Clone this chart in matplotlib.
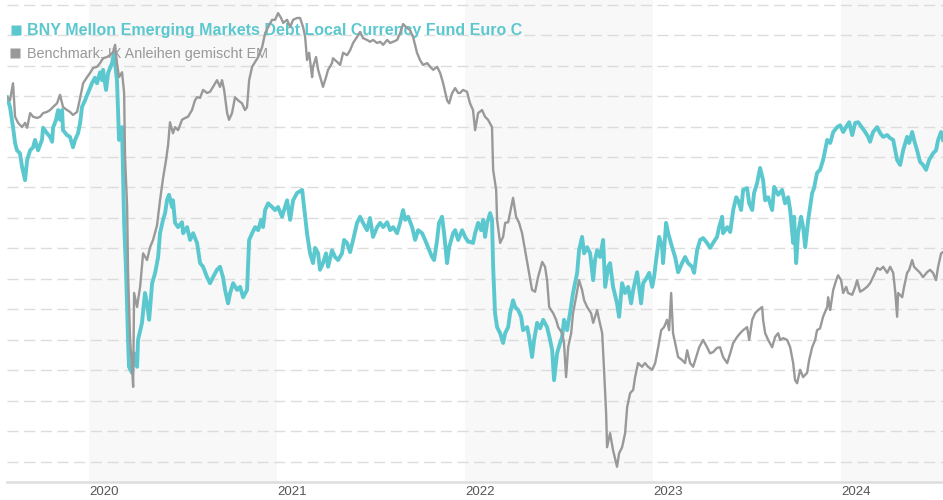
import matplotlib
matplotlib.use("Agg")
import matplotlib.pyplot as plt

# ---------------- data (decimal years, performance in %) ----------------
fund_x = [2019.564, 2019.580, 2019.596, 2019.607, 2019.617, 2019.633, 2019.644, 2019.660, 2019.671, 2019.687,
          2019.703, 2019.713, 2019.729, 2019.750, 2019.756, 2019.777, 2019.793, 2019.804, 2019.809, 2019.825,
          2019.836, 2019.846, 2019.857, 2019.862, 2019.883, 2019.899, 2019.915, 2019.926, 2019.942, 2019.953,
          2019.963, 2019.979, 2019.995, 2020.016, 2020.032, 2020.043, 2020.059, 2020.070, 2020.075, 2020.091,
          2020.102, 2020.123, 2020.133, 2020.149, 2020.160, 2020.176, 2020.187, 2020.197, 2020.208, 2020.213,
          2020.229, 2020.240, 2020.256, 2020.261, 2020.282, 2020.298, 2020.309, 2020.320, 2020.336, 2020.352,
          2020.368, 2020.378, 2020.394, 2020.405, 2020.415, 2020.426, 2020.442, 2020.447, 2020.458, 2020.474,
          2020.495, 2020.501, 2020.522, 2020.538, 2020.554, 2020.575, 2020.591, 2020.607, 2020.628, 2020.644,
          2020.660, 2020.681, 2020.697, 2020.713, 2020.724, 2020.740, 2020.751, 2020.767, 2020.788, 2020.804,
          2020.820, 2020.841, 2020.852, 2020.868, 2020.884, 2020.900, 2020.916, 2020.926, 2020.937, 2020.953,
          2020.974, 2020.990, 2021.006, 2021.027, 2021.043, 2021.054, 2021.070, 2021.086, 2021.107, 2021.134,
          2021.150, 2021.160, 2021.176, 2021.192, 2021.203, 2021.219, 2021.229, 2021.245, 2021.261, 2021.272,
          2021.293, 2021.309, 2021.325, 2021.346, 2021.357, 2021.373, 2021.389, 2021.405, 2021.426, 2021.442,
          2021.458, 2021.479, 2021.495, 2021.511, 2021.533, 2021.549, 2021.565, 2021.586, 2021.602, 2021.618,
          2021.639, 2021.655, 2021.671, 2021.682, 2021.698, 2021.719, 2021.735, 2021.751, 2021.772, 2021.788,
          2021.804, 2021.825, 2021.836, 2021.852, 2021.862, 2021.878, 2021.889, 2021.905, 2021.916, 2021.937,
          2021.948, 2021.964, 2021.985, 2022.001, 2022.017, 2022.027, 2022.043, 2022.054, 2022.070, 2022.086,
          2022.097, 2022.107, 2022.118, 2022.134, 2022.144, 2022.150, 2022.160, 2022.171, 2022.187, 2022.203,
          2022.214, 2022.230, 2022.240, 2022.256, 2022.267, 2022.283, 2022.299, 2022.309, 2022.331, 2022.341,
          2022.357, 2022.368, 2022.384, 2022.400, 2022.416, 2022.437, 2022.453, 2022.464, 2022.474, 2022.490,
          2022.506, 2022.517, 2022.527, 2022.543, 2022.559, 2022.575, 2022.597, 2022.607, 2022.623, 2022.634,
          2022.650, 2022.666, 2022.682, 2022.692, 2022.703, 2022.719, 2022.735, 2022.746, 2022.762, 2022.772,
          2022.788, 2022.809, 2022.820, 2022.836, 2022.852, 2022.868, 2022.884, 2022.895, 2022.916, 2022.926,
          2022.937, 2022.948, 2022.969, 2022.980, 2022.996, 2023.006, 2023.017, 2023.033, 2023.049, 2023.054,
          2023.070, 2023.081, 2023.102, 2023.118, 2023.134, 2023.155, 2023.171, 2023.187, 2023.208, 2023.219,
          2023.235, 2023.251, 2023.267, 2023.288, 2023.304, 2023.320, 2023.341, 2023.352, 2023.368, 2023.373,
          2023.395, 2023.411, 2023.427, 2023.443, 2023.453, 2023.469, 2023.480, 2023.501, 2023.512, 2023.528,
          2023.538, 2023.554, 2023.570, 2023.586, 2023.597, 2023.613, 2023.634, 2023.645, 2023.666, 2023.687,
          2023.703, 2023.719, 2023.730, 2023.746, 2023.751, 2023.762, 2023.772, 2023.788, 2023.799, 2023.810,
          2023.826, 2023.847, 2023.857, 2023.873, 2023.889, 2023.905, 2023.916, 2023.927, 2023.943, 2023.959,
          2023.980, 2023.996, 2024.012, 2024.033, 2024.044, 2024.060, 2024.076, 2024.092, 2024.113, 2024.129,
          2024.145, 2024.155, 2024.171, 2024.193, 2024.209, 2024.225, 2024.246, 2024.262, 2024.278, 2024.299,
          2024.315, 2024.331, 2024.352, 2024.363, 2024.379, 2024.389, 2024.405, 2024.421, 2024.437, 2024.453,
          2024.469, 2024.490, 2024.506, 2024.517, 2024.533, 2024.543]
fund_y = [-0.2, -1.8, -5.1, -7.7, -8.9, -9.4, -11.6, -13.8, -10.5, -8.9,
          -8.4, -7.2, -8.9, -7.2, -5.2, -6.1, -6.7, -7.5, -5.2, -3.9,
          -2.3, -3.9, -2.3, -5.6, -6.4, -6.7, -8.4, -7.2, -6.1, -4.4,
          -1.8, -0.7, 0.5, 2.1, 3.0, 2.1, 3.9, 2.6, 4.3, 1.0,
          3.8, 5.4, 7.1, 2.6, -7.2, -5.1, -20.8, -28.5, -40.0, -44.4,
          -45.4, -42.2, -44.4, -40.0, -37.2, -32.3, -34.0, -36.7, -30.7, -29.0,
          -26.4, -22.5, -20.3, -19.2, -17.1, -16.2, -18.2, -17.1, -20.8, -21.5,
          -20.7, -22.5, -21.5, -23.6, -22.5, -24.1, -27.4, -28.0, -29.7, -30.7,
          -29.7, -28.5, -28.0, -29.7, -31.8, -34.0, -32.3, -30.7, -31.8, -31.3,
          -33.0, -31.8, -23.6, -22.5, -21.5, -22.0, -20.3, -21.5, -18.7, -17.6,
          -18.2, -18.7, -18.2, -19.8, -18.2, -17.1, -20.3, -17.1, -15.9, -15.4,
          -19.8, -22.5, -25.8, -27.4, -24.9, -25.8, -28.5, -27.4, -25.8, -28.0,
          -25.3, -26.4, -26.9, -25.8, -23.6, -24.1, -25.6, -23.6, -20.8, -19.8,
          -20.8, -22.0, -20.0, -23.1, -21.5, -20.8, -21.5, -20.7, -22.0, -21.5,
          -22.5, -20.8, -18.7, -20.3, -19.8, -21.5, -23.6, -22.0, -22.5, -23.6,
          -24.8, -26.4, -26.9, -23.6, -20.8, -19.8, -22.5, -27.4, -24.8, -22.5,
          -22.0, -23.6, -22.0, -23.1, -23.9, -23.9, -24.1, -22.5, -20.8, -22.0,
          -20.3, -23.1, -20.8, -19.2, -20.3, -28.0, -35.6, -37.9, -38.9, -40.5,
          -38.9, -37.9, -35.6, -33.5, -34.6, -35.1, -36.2, -38.4, -37.9, -39.5,
          -42.8, -40.0, -37.2, -38.1, -36.7, -37.9, -40.0, -41.7, -46.6, -42.2,
          -40.5, -39.5, -36.7, -38.4, -35.6, -32.3, -29.0, -25.3, -23.1, -25.8,
          -24.8, -25.8, -30.2, -26.9, -25.3, -26.4, -23.6, -31.3, -28.0, -27.4,
          -31.3, -34.0, -36.2, -30.7, -32.3, -31.3, -34.0, -31.8, -28.9, -31.3,
          -34.0, -30.7, -29.7, -29.0, -31.3, -29.7, -26.9, -23.1, -24.8, -27.4,
          -20.8, -22.5, -24.8, -26.4, -28.9, -27.4, -26.4, -27.4, -28.0, -29.0,
          -25.3, -23.6, -23.3, -24.1, -24.9, -24.1, -23.1, -21.5, -19.8, -22.5,
          -21.5, -22.3, -18.7, -16.6, -17.1, -18.7, -15.4, -15.1, -17.6, -18.7,
          -15.9, -14.3, -11.8, -13.8, -17.1, -16.6, -18.7, -14.9, -16.2, -15.4,
          -17.6, -16.6, -18.7, -24.1, -19.8, -27.4, -22.5, -19.8, -21.5, -24.8,
          -20.3, -15.9, -15.1, -12.6, -12.1, -10.5, -8.9, -7.2, -7.7, -5.9,
          -5.1, -4.8, -5.9, -4.8, -4.3, -6.4, -4.4, -4.3, -5.2, -5.9,
          -6.7, -7.5, -5.9, -5.1, -6.1, -6.7, -6.4, -6.9, -7.2, -10.5,
          -11.3, -8.9, -6.7, -7.7, -5.9, -7.2, -8.9, -10.8, -11.3, -12.1,
          -10.5, -9.4, -8.9, -7.2, -5.9, -7.2]

bench_x = [2019.564, 2019.580, 2019.596, 2019.607, 2019.623, 2019.644, 2019.660, 2019.671, 2019.687, 2019.703,
           2019.724, 2019.740, 2019.756, 2019.777, 2019.793, 2019.809, 2019.830, 2019.846, 2019.862, 2019.883,
           2019.899, 2019.915, 2019.937, 2019.953, 2019.969, 2019.990, 2020.006, 2020.022, 2020.043, 2020.059,
           2020.075, 2020.096, 2020.112, 2020.128, 2020.139, 2020.149, 2020.160, 2020.176, 2020.187, 2020.192,
           2020.203, 2020.208, 2020.219, 2020.229, 2020.235, 2020.240, 2020.256, 2020.261, 2020.272, 2020.288,
           2020.309, 2020.325, 2020.341, 2020.362, 2020.378, 2020.394, 2020.410, 2020.421, 2020.431, 2020.447,
           2020.458, 2020.474, 2020.495, 2020.511, 2020.527, 2020.548, 2020.564, 2020.575, 2020.591, 2020.607,
           2020.628, 2020.644, 2020.660, 2020.681, 2020.697, 2020.708, 2020.719, 2020.735, 2020.745, 2020.761,
           2020.777, 2020.793, 2020.814, 2020.830, 2020.841, 2020.852, 2020.868, 2020.884, 2020.900, 2020.921,
           2020.937, 2020.953, 2020.974, 2020.990, 2021.006, 2021.022, 2021.033, 2021.054, 2021.070, 2021.086,
           2021.107, 2021.123, 2021.139, 2021.150, 2021.160, 2021.171, 2021.187, 2021.192, 2021.208, 2021.219,
           2021.235, 2021.245, 2021.261, 2021.272, 2021.293, 2021.298, 2021.320, 2021.336, 2021.352, 2021.373,
           2021.389, 2021.405, 2021.426, 2021.442, 2021.458, 2021.479, 2021.495, 2021.511, 2021.533, 2021.549,
           2021.565, 2021.586, 2021.602, 2021.618, 2021.639, 2021.655, 2021.671, 2021.687, 2021.708, 2021.724,
           2021.745, 2021.761, 2021.777, 2021.799, 2021.815, 2021.831, 2021.852, 2021.868, 2021.884, 2021.905,
           2021.916, 2021.932, 2021.948, 2021.964, 2021.974, 2021.990, 2022.011, 2022.027, 2022.043, 2022.054,
           2022.070, 2022.091, 2022.107, 2022.123, 2022.144, 2022.150, 2022.166, 2022.171, 2022.187, 2022.203,
           2022.214, 2022.230, 2022.246, 2022.256, 2022.272, 2022.288, 2022.304, 2022.320, 2022.336, 2022.357,
           2022.373, 2022.389, 2022.411, 2022.426, 2022.437, 2022.448, 2022.469, 2022.485, 2022.496, 2022.517,
           2022.527, 2022.538, 2022.549, 2022.565, 2022.575, 2022.591, 2022.607, 2022.623, 2022.634, 2022.650,
           2022.671, 2022.682, 2022.703, 2022.714, 2022.730, 2022.740, 2022.751, 2022.756, 2022.772, 2022.788,
           2022.809, 2022.820, 2022.836, 2022.852, 2022.863, 2022.879, 2022.895, 2022.905, 2022.921, 2022.942,
           2022.958, 2022.974, 2022.996, 2023.012, 2023.028, 2023.044, 2023.059, 2023.075, 2023.086, 2023.097,
           2023.107, 2023.118, 2023.134, 2023.155, 2023.171, 2023.182, 2023.198, 2023.214, 2023.230, 2023.246,
           2023.267, 2023.288, 2023.304, 2023.320, 2023.341, 2023.357, 2023.373, 2023.395, 2023.411, 2023.427,
           2023.448, 2023.464, 2023.480, 2023.501, 2023.512, 2023.528, 2023.544, 2023.560, 2023.581, 2023.586,
           2023.597, 2023.613, 2023.634, 2023.650, 2023.666, 2023.677, 2023.693, 2023.714, 2023.730, 2023.746,
           2023.756, 2023.767, 2023.783, 2023.799, 2023.820, 2023.831, 2023.847, 2023.863, 2023.873, 2023.889,
           2023.905, 2023.927, 2023.932, 2023.943, 2023.959, 2023.975, 2023.985, 2024.001, 2024.012, 2024.028,
           2024.038, 2024.060, 2024.076, 2024.086, 2024.102, 2024.118, 2024.139, 2024.155, 2024.171, 2024.193,
           2024.209, 2024.225, 2024.246, 2024.262, 2024.278, 2024.288, 2024.299, 2024.304, 2024.326, 2024.336,
           2024.352, 2024.363, 2024.379, 2024.389, 2024.405, 2024.421, 2024.437, 2024.458, 2024.474, 2024.490,
           2024.506, 2024.517, 2024.533, 2024.543]
bench_y = [-0.2, -0.7, 2.1, -3.4, -4.4, -5.1, -4.4, -5.2, -2.8, -3.4,
           -3.6, -3.4, -2.8, -2.6, -2.3, -1.8, -1.2, 0.2, -1.8, -2.3,
           -2.6, -3.1, -2.6, -0.3, 2.1, 3.1, 3.8, 4.6, 4.8, 5.4,
           6.2, 6.4, 6.7, 7.2, 8.4, 5.4, 3.1, 3.9, 0.5, -10.0,
           -18.2, -29.0, -40.0, -44.4, -47.7, -32.3, -34.6, -33.5, -31.3, -25.8,
           -26.9, -24.8, -23.6, -21.2, -17.1, -13.5, -10.5, -8.0, -4.3, -6.1,
           -5.1, -5.6, -3.9, -3.6, -3.4, -2.3, -0.7, -0.2, -0.3, 1.0,
           0.5, 0.7, 1.5, 2.6, 1.5, 2.6, 1.0, -2.8, -3.9, -2.8,
           -0.2, -0.7, -1.2, -2.3, -1.8, 2.6, 4.8, 5.6, 6.4, 8.0,
           10.3, 11.3, 12.5, 12.5, 13.6, 12.8, 12.0, 12.5, 11.3, 12.5,
           12.8, 12.8, 11.3, 9.7, 5.9, 7.1, 3.1, 4.8, 6.4, 4.3,
           2.6, 1.5, 3.1, 4.3, 5.4, 6.2, 5.6, 5.1, 7.1, 6.7,
           7.5, 8.7, 9.7, 10.5, 9.5, 9.2, 8.9, 9.2, 8.7, 8.9,
           8.4, 9.2, 8.7, 8.9, 9.2, 10.3, 11.8, 11.3, 10.8, 9.7,
           7.1, 5.9, 5.1, 5.4, 4.8, 4.3, 4.8, 3.8, 2.1, -0.7,
           -1.2, 0.5, 1.3, 0.5, 0.5, 1.0, 0.7, -1.2, -2.3, -5.6,
           -2.8, -2.3, -3.4, -3.9, -5.1, -12.1, -15.4, -20.3, -24.1, -23.1,
           -20.8, -20.7, -18.2, -16.7, -19.8, -20.8, -22.5, -25.3, -28.0, -31.8,
           -32.1, -29.7, -27.2, -28.0, -30.2, -34.6, -35.6, -36.7, -37.9, -38.9,
           -40.5, -46.1, -41.2, -38.9, -35.6, -33.0, -30.2, -31.8, -33.5, -34.6,
           -35.6, -37.2, -35.1, -36.7, -38.9, -44.9, -52.0, -57.6, -55.3, -58.1,
           -60.8, -58.6, -57.6, -55.3, -51.0, -48.7, -48.2, -46.1, -43.8, -44.4,
           -43.8, -44.4, -44.9, -43.8, -41.2, -38.4, -37.9, -36.7, -38.4, -32.3,
           -38.9, -40.5, -42.8, -43.3, -43.8, -41.7, -43.8, -44.4, -42.8, -41.2,
           -40.0, -41.2, -42.2, -42.0, -41.3, -41.2, -42.8, -43.8, -42.2, -40.5,
           -39.5, -38.9, -38.4, -37.9, -40.0, -36.7, -35.6, -35.1, -34.6, -36.7,
           -38.9, -40.0, -41.2, -39.5, -38.9, -40.0, -39.7, -40.0, -41.2, -43.8,
           -46.6, -47.1, -44.9, -46.1, -45.4, -43.3, -41.2, -40.0, -38.4, -38.1,
           -36.2, -34.6, -33.0, -35.1, -31.8, -30.2, -29.4, -30.2, -32.3, -31.3,
           -32.3, -32.6, -31.3, -30.2, -32.1, -31.8, -31.3, -30.7, -29.7, -28.2,
           -28.5, -28.0, -29.0, -28.0, -29.0, -31.8, -36.2, -32.3, -33.0, -31.3,
           -29.0, -28.5, -26.9, -28.0, -28.5, -29.0, -29.7, -28.9, -28.5, -29.0,
           -30.2, -28.0, -25.8, -25.6]

year_ticks = [2020, 2021, 2022, 2023, 2024]
year_labels = ["2020", "2021", "2022", "2023", "2024"]
shaded_years = [2020, 2022, 2024]
grid_levels = list(range(-60, 16, 5))

fund_name = "BNY Mellon Emerging Markets Debt Local Currency Fund Euro C"
bench_name = "Benchmark: IX Anleihen gemischt EM"

# ---------------- styling ----------------
TEAL = "#5bc8cf"
GREY = "#999999"
FAMS = ["Liberation Sans", "DejaVu Sans"]

fig = plt.figure(figsize=(9.43, 5.0), dpi=100)
ax = fig.add_axes([7 / 943, 18 / 500, 936 / 943, 482 / 500])

x_min, x_max = fund_x[0], fund_x[-1]
ax.set_xlim(x_min, x_max)
ax.set_ylim(-63.3, 15.75)

for yr in shaded_years:
    ax.axvspan(yr, min(yr + 1, x_max), color="#f8f8f8", zorder=0, lw=0)

ax.set_yticks(grid_levels)
ax.yaxis.grid(True, linestyle=(0, (8, 4)), color="#dcdcdc", lw=1.0, zorder=0.5)
ax.set_axisbelow(True)
ax.tick_params(axis="y", left=False, labelleft=False)

ax.set_xticks(year_ticks)
ax.set_xticklabels(year_labels, ha="left", fontsize=9.5, color="#555555", family=FAMS)
ax.tick_params(axis="x", length=0, pad=3)

for s in ["top", "left", "right"]:
    ax.spines[s].set_visible(False)
ax.spines["bottom"].set_color("#dddddd")
ax.spines["bottom"].set_linewidth(1.8)

ax.plot(fund_x, fund_y, color=TEAL, lw=2.8, zorder=3, solid_joinstyle="round")
ax.plot(bench_x, bench_y, color=GREY, lw=1.7, zorder=4, solid_joinstyle="round")

# legend (drawn beneath the lines, as in the original)
def ax_px(px, py):
    return ((px - 7) / 936, 1 - py / 482)

for (sq_x, sq_y), col in [((15.5, 29.5), TEAL), ((15.0, 53.0), GREY)]:
    ax.plot(*ax_px(sq_x, sq_y), marker="s", ms=6.6, color=col, mec="none",
            transform=ax.transAxes, clip_on=False, zorder=2)

tx, ty = ax_px(27, 34.5)
ax.text(tx, ty, fund_name, transform=ax.transAxes, va="baseline", ha="left",
        fontsize=11.5, fontweight="bold", color=TEAL, family=FAMS, zorder=2)
tx, ty = ax_px(27, 58)
ax.text(tx, ty, bench_name, transform=ax.transAxes, va="baseline", ha="left",
        fontsize=10.4, color=GREY, family=FAMS, zorder=2)

fig.savefig("out.png", dpi=100, facecolor="white")
